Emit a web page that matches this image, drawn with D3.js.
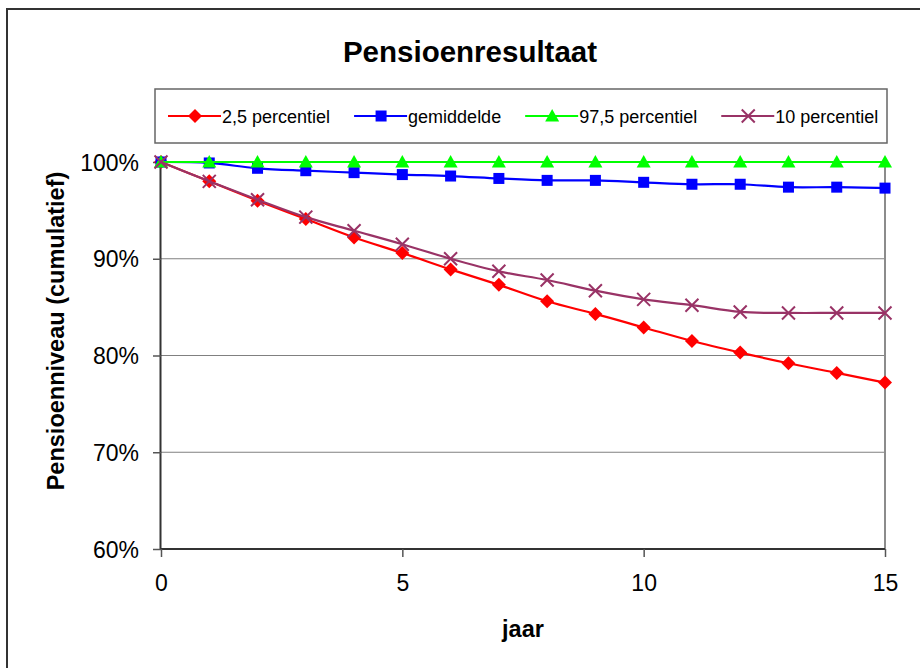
<!DOCTYPE html>
<html>
<head>
<meta charset="utf-8">
<script src="https://cdn.jsdelivr.net/npm/d3@7"></script>
<style>
  body { margin: 0; background: #fff; }
  svg { display: block; font-family: "Liberation Sans", Arial, sans-serif; }
</style>
</head>
<body>
<svg id="chart" width="920" height="668"></svg>
<script>
// chart data (percent of pension, cumulative)
const years = [0, 1, 2, 3, 4, 5, 6, 7, 8, 9, 10, 11, 12, 13, 14, 15];
const p2_5 = [100, 98.0, 96.0, 94.1, 92.2, 90.6, 88.9, 87.3, 85.6, 84.3, 82.9, 81.5, 80.3, 79.2, 78.2, 77.2];
const gemiddelde = [100, 99.9, 99.35, 99.1, 98.9, 98.7, 98.55, 98.3, 98.1, 98.1, 97.9, 97.7, 97.7, 97.4, 97.4, 97.3];
const p97_5 = [100, 100, 100, 100, 100, 100, 100, 100, 100, 100, 100, 100, 100, 100, 100, 100];
const p10 = [100, 98.0, 96.1, 94.3, 92.9, 91.5, 90.0, 88.7, 87.8, 86.7, 85.8, 85.2, 84.5, 84.4, 84.4, 84.4];

const seriesNames = ["2,5 percentiel", "gemiddelde", "97,5 percentiel", "10 percentiel"];
const seriesColors = ["#ff0000", "#0000ff", "#00ff00", "#993366"];
const seriesMarkers = ["diamond", "square", "triangle", "cross"];
const xTicks = [0, 5, 10, 15];
const yTicks = [60, 70, 80, 90, 100];

const series = [p2_5, gemiddelde, p97_5, p10].map((vals, i) => ({
  name: seriesNames[i],
  color: seriesColors[i],
  marker: seriesMarkers[i],
  points: vals.map((v, j) => ({ x: years[j], y: v }))
}));

const svg = d3.select("#chart");
const plot = { left: 161, right: 885, top: 162, bottom: 549 };

const x = d3.scaleLinear().domain([0, 15]).range([plot.left, plot.right]);
const y = d3.scaleLinear().domain([60, 100]).range([plot.bottom, plot.top]);

// outer frame (runs off the right and bottom edge)
svg.append("rect")
  .attr("x", 7).attr("y", 9)
  .attr("width", 940).attr("height", 690)
  .attr("fill", "none").attr("stroke", "#333").attr("stroke-width", 2);

// title
svg.append("text")
  .attr("x", 470).attr("y", 62)
  .attr("text-anchor", "middle")
  .attr("font-size", 29.5).attr("font-weight", "bold")
  .text("Pensioenresultaat");

// gridlines
svg.append("g")
  .selectAll("line")
  .data(yTicks.filter(t => t > 60 && t < 100))
  .enter().append("line")
  .attr("x1", plot.left).attr("x2", plot.right)
  .attr("y1", d => y(d)).attr("y2", d => y(d))
  .attr("stroke", "#808080").attr("stroke-width", 1.2);

// plot area border (right side visible)
svg.append("line")
  .attr("x1", plot.right).attr("x2", plot.right)
  .attr("y1", plot.top).attr("y2", plot.bottom)
  .attr("stroke", "#8c8c8c").attr("stroke-width", 2);

// axes
const yAxis = d3.axisLeft(y)
  .tickValues(yTicks)
  .tickSize(8)
  .tickPadding(14)
  .tickFormat(d => d + "%");
const xAxis = d3.axisBottom(x)
  .tickValues(xTicks)
  .tickSize(8)
  .tickPadding(18);

const gy = svg.append("g")
  .attr("transform", `translate(${plot.left},0)`)
  .call(yAxis);
const gx = svg.append("g")
  .attr("transform", `translate(0,${plot.bottom})`)
  .call(xAxis);

[gx, gy].forEach(g => {
  g.select(".domain").attr("stroke", "#333").attr("stroke-width", 2);
  g.selectAll(".tick line").attr("stroke", "#555").attr("stroke-width", 1.5);
  g.selectAll(".tick text")
    .attr("font-family", "Liberation Sans, Arial, sans-serif")
    .attr("font-size", 23).attr("fill", "#000");
});
gy.select(".domain").attr("d", `M-0.5,${plot.top}V${plot.bottom}`);
gx.select(".domain").attr("d", `M${plot.left},0H${plot.right}`);
gy.selectAll(".tick text").attr("dy", "0.35em");

// axis titles
svg.append("text")
  .attr("transform", "translate(64,331) rotate(-90)")
  .attr("text-anchor", "middle")
  .attr("font-size", 23.5).attr("font-weight", "bold")
  .text("Pensioenniveau (cumulatief)");

svg.append("text")
  .attr("x", (plot.left + plot.right) / 2).attr("y", 637)
  .attr("text-anchor", "middle")
  .attr("font-size", 23.5).attr("font-weight", "bold")
  .text("jaar");

// marker drawing
function drawMarker(g, type, color) {
  if (type === "diamond") {
    g.append("path").attr("d", "M0,-7L7,0L0,7L-7,0Z").attr("fill", color);
  } else if (type === "square") {
    g.append("rect").attr("x", -5.5).attr("y", -5.5).attr("width", 11).attr("height", 11).attr("fill", color);
  } else if (type === "triangle") {
    g.append("path").attr("d", "M0,-7L7,5.5L-7,5.5Z").attr("fill", color);
  } else if (type === "cross") {
    g.append("path").attr("d", "M-6.5,-6.5L6.5,6.5M-6.5,6.5L6.5,-6.5")
      .attr("stroke", color).attr("stroke-width", 2).attr("fill", "none");
  }
}

const line = d3.line()
  .x(d => x(d.x))
  .y(d => y(d.y))
  .curve(d3.curveCardinal.tension(0));

// series in Excel order: later series on top
series.forEach(s => {
  const g = svg.append("g");
  g.append("path")
    .datum(s.points)
    .attr("d", line)
    .attr("fill", "none")
    .attr("stroke", s.color)
    .attr("stroke-width", 2.2);
  g.selectAll("g.pt")
    .data(s.points)
    .enter().append("g")
    .attr("class", "pt")
    .attr("transform", d => `translate(${x(d.x)},${y(d.y)})`)
    .each(function() { drawMarker(d3.select(this), s.marker, s.color); });
});

// legend
const legend = svg.append("g");
legend.append("rect")
  .attr("x", 155).attr("y", 89)
  .attr("width", 732).attr("height", 54)
  .attr("fill", "#fff").attr("stroke", "#666").attr("stroke-width", 1.5);

let lx = 168;
series.forEach(s => {
  const item = legend.append("g").attr("transform", `translate(${lx},116)`);
  item.append("line")
    .attr("x1", 0).attr("x2", 53)
    .attr("stroke", s.color).attr("stroke-width", 2.2);
  drawMarker(item.append("g").attr("transform", "translate(27,0)"), s.marker, s.color);
  const t = item.append("text")
    .attr("x", 54).attr("y", 6.5)
    .attr("font-size", 18)
    .text(s.name);
  lx += 54 + t.node().getComputedTextLength() + 24;
});
</script>
</body>
</html>
